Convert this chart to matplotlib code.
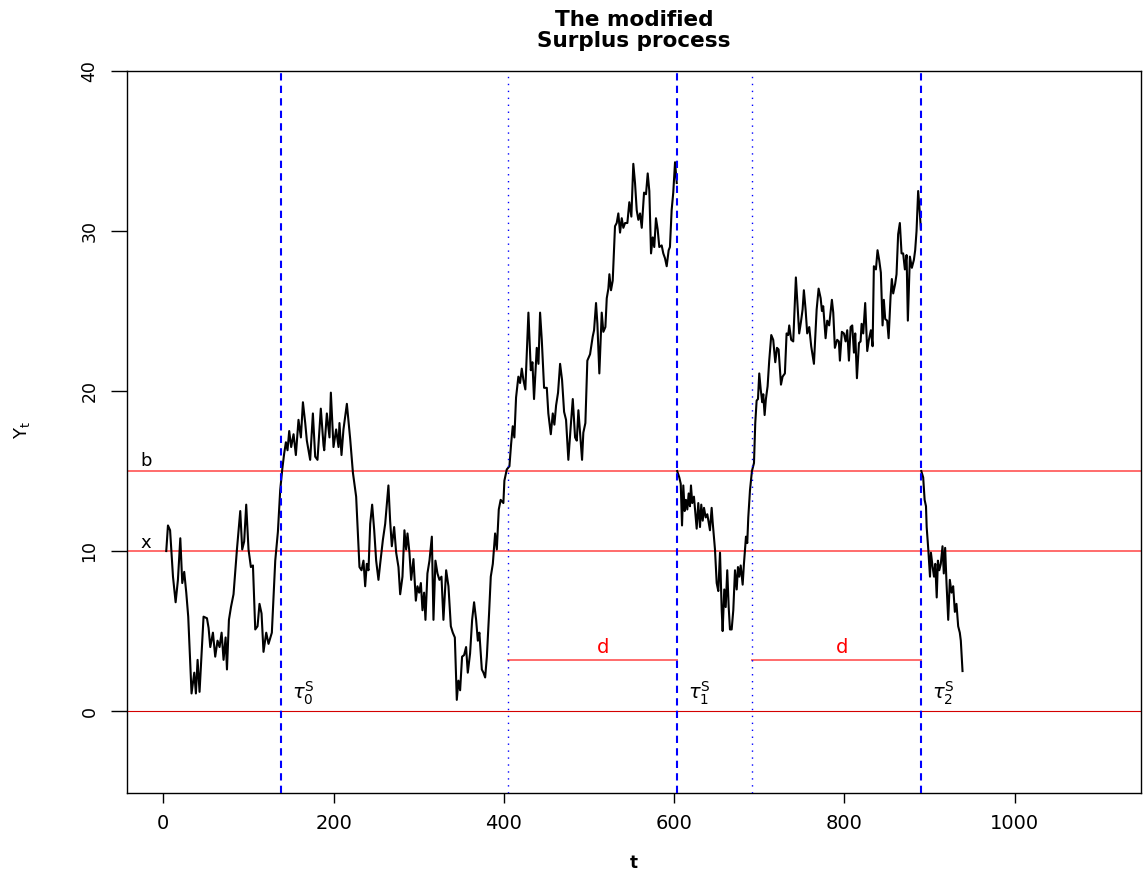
import numpy as np
import matplotlib.pyplot as plt

plt.rcParams['font.family'] = ['DejaVu Sans']

# simulated surplus path (time, level), reset to b at each stopping time
t = [3.5, 5.5, 8, 11.4, 14.5, 17.2, 20, 22.3, 24.6, 27, 29.3, 33.2, 36.4, 38.3, 40.3,
     42.6, 45.4, 47.3, 51.3, 53.2, 55.2, 58.3, 61, 63.7, 66.1, 68.5, 70.8, 73.2, 74.8, 77.1,
     79.5, 82.5, 86.5, 90.4, 92.7, 95, 97.4, 100.1, 102.9, 105.3, 108, 110.7, 113, 115.4, 117.7,
     120.9, 123.6, 127.5, 131.5, 134.6, 137.3, 139.7, 142, 144, 145.9, 147.9, 150.2, 153, 155.7, 158.8,
     161.6, 164, 166.7, 168.6, 172.5, 175.7, 178.4, 181.1, 185, 188.2,
     189, 192.1, 195.2, 196.8, 199.9, 203, 205.8, 206.9, 209.3, 211.6, 215.6, 219.5, 222.7, 226.5, 230.4,
     232.8, 235.1, 237.1, 239, 241, 243, 245.3, 247.7, 250, 252.7, 254.7, 257.9, 260.6, 264.4, 266.4,
     268.4, 271.1, 273.5, 276.2, 278.2, 280.9, 283.2, 285.2, 286.8, 289.1, 291.1, 293.8, 296.6, 298.5, 300.5,
     302.5, 304.4, 306.3, 307.9, 310.2, 312.6, 315.4, 317.3, 319.6, 322, 324.3, 326.7, 329, 332.2, 334.9,
     337.7, 340, 342.4, 344.7, 346.6, 348.6, 350.9, 353.3, 355.6, 357.6, 360.3, 362.7, 365, 367.4, 369.4,
     371.2, 374.1, 376, 378, 380, 382.6, 384.6, 387, 389.7, 391.7, 394, 396.2, 399.4, 400.6, 403.4,
     406.5, 408.5, 410.4, 412.3, 414.3, 417, 419, 421, 422.9, 425.2, 428.8, 431.6, 433.5, 435.4, 438.6,
     440.6, 442.5, 444.5, 447.2, 450.4, 452.2, 455.1, 457.4, 459.3, 461.3, 463.6, 466, 468.3, 470.7, 473,
     475.7, 478.5, 480.9, 483.6, 485.6, 487.5, 489.4, 491.8, 493.3, 495.7, 498, 501.2, 504.3, 505.9, 508.2,
     509.8, 512.1, 514.9, 516.8, 519.2, 520.8, 522.7, 523.9, 525.8, 527.8, 530.5, 532.5, 534.4, 536.4, 538.4,
     540.3, 542.3, 545, 547.3, 549.7, 552, 554, 556, 557.9, 559.9, 561.9, 564.6, 566.9, 568.9, 570.8,
     572.8, 574.8, 576.6, 578.6, 580.6, 582.5, 585.3, 587.2, 589.2, 591.2, 593.5, 595, 597, 598.9, 601, 603,
     603.5, 606, 607.7, 609.2, 610.7, 612.3, 613.8, 615.4, 617, 618.5, 619.7, 621.2, 623.2, 624.8, 626.4,
     628.3, 630.3, 631.8, 633.5, 635, 637, 638.9, 640.5, 642, 644, 645.2, 647.9, 649.9, 651.8, 653.8,
     655.8, 656.9, 658.8, 660.5, 662.3, 664, 665.5, 667.5, 669.4, 671.4, 673.4, 674.9, 676.4, 678.1, 680.4,
     681.9, 684.3, 685.8, 687, 689, 691.3,
     693.7, 695.2, 696.8, 698.4, 699.9, 701.6, 703.4, 704.6, 706.2, 707.7, 709.7, 711.6, 714, 716.3, 718.7,
     720.7, 722.6, 725.4, 727.3, 730, 732, 733.9, 735.1, 737.4, 739.8, 742.9, 744.9, 746.8, 748.8, 750.8,
     752.3, 754.3, 756.2, 758.6, 760.9, 764.1, 767.3, 769.6, 772, 773.5, 775, 777.8, 779.7, 782, 785.2,
     786.8, 788.7, 791.4, 793.4, 794.6, 796.9, 799.3, 801.3, 803.2, 805.2, 807.2, 809.1, 811.1, 812.6, 814.6,
     817, 818.9, 820.1, 822, 824.3, 826.7, 828.6, 831, 833, 834.5, 836.9, 838.8, 840.7, 842.7, 844.7,
     846.2, 847.8, 850.1, 851.8, 854.1, 855.6, 857.2, 859.5, 861.1, 863, 865, 867, 868.9, 870.9, 872.9,
     874.4, 876.8, 879.1, 881.5, 883, 884.6, 886.5, 888.5, 889.7,
     890.2, 892.4, 894.1, 895.7, 896.5, 898.4, 900.4, 901.5, 903.5, 905.1, 906.6, 908.3, 909.7, 911.3, 913.1,
     915.1, 916.6, 918.2, 919.8, 921.8, 923.7, 925.7, 927.6, 929.6, 931.5, 933.5, 935.4, 936.6, 938.6]

surplus = [10.0, 11.6, 11.3, 8.4, 6.8, 8.2, 10.8, 8.0, 8.7, 7.4, 5.9, 1.1, 2.4, 1.1, 3.2,
           1.2, 4.0, 5.9, 5.8, 5.2, 4.0, 4.9, 3.4, 4.4, 4.0, 4.9, 3.2, 4.6, 2.6, 5.7,
           6.5, 7.3, 10.1, 12.5, 10.1, 10.6, 12.9, 10.1, 9.0, 9.1, 5.1, 5.3, 6.7, 6.1, 3.7,
           4.9, 4.2, 4.9, 9.4, 11.2, 13.8, 15.1, 16.1, 16.8, 16.3, 17.5, 16.5, 17.3, 16.0, 18.2,
           17.1, 19.3, 18.0, 16.9, 15.7, 18.6, 15.9, 15.7, 18.9, 16.6,
           16.3, 18.6, 17.1, 19.9, 16.5, 17.6, 16.5, 18.0, 16.0, 17.6, 19.2, 17.0, 14.9, 13.4, 9.0,
           8.8, 9.4, 7.8, 9.2, 8.8, 11.7, 12.9, 11.3, 9.4, 8.2, 9.2, 10.7, 11.7, 14.1, 11.9,
           10.3, 11.5, 9.9, 9.0, 7.3, 8.4, 11.3, 10.1, 11.1, 9.9, 8.2, 9.5, 6.9, 7.8, 7.4,
           8.0, 6.3, 7.4, 5.7, 8.6, 9.4, 10.9, 5.7, 9.4, 8.6, 8.2, 8.4, 5.7, 8.8, 7.8,
           5.3, 4.9, 4.6, 0.7, 1.9, 1.3, 3.4, 3.5, 4.0, 2.4, 3.6, 5.7, 6.8, 5.7, 4.4,
           4.9, 2.6, 2.4, 2.1, 3.4, 6.1, 8.4, 9.2, 11.1, 10.1, 12.6, 13.2, 13.0, 14.4, 15.1,
           15.3, 16.7, 17.8, 17.1, 19.6, 20.9, 20.5, 21.4, 20.7, 20.1, 24.9, 21.3, 21.8, 19.5, 22.7,
           21.7, 24.9, 23.2, 20.2, 20.2, 18.6, 17.3, 18.6, 17.9, 19.1, 19.9, 21.7, 20.7, 18.7, 18.2,
           15.7, 17.8, 19.5, 17.1, 16.9, 18.8, 17.4, 15.7, 17.4, 18.0, 21.9, 22.3, 23.4, 23.8, 25.5,
           24.2, 21.1, 24.9, 23.7, 24.0, 25.8, 26.4, 27.3, 26.3, 26.9, 30.3, 30.5, 31.1, 29.9, 30.8,
           30.2, 30.5, 30.5, 31.8, 30.9, 34.2, 33.0, 31.3, 30.7, 31.1, 30.2, 32.4, 32.3, 33.6, 32.5,
           28.6, 29.6, 29.0, 30.8, 30.1, 29.0, 29.1, 28.6, 28.3, 27.8, 28.8, 29.0, 31.3, 32.4, 34.3, 33.0,
           15.0, 14.6, 14.2, 11.6, 14.1, 12.5, 13.2, 12.6, 13.6, 12.8, 14.1, 13.0, 13.4, 12.4, 11.4,
           13.0, 11.5, 12.9, 11.9, 12.7, 12.1, 12.3, 11.8, 11.3, 12.7, 11.8, 10.1, 8.0, 7.5, 9.9,
           6.3, 5.0, 7.6, 6.5, 8.8, 6.5, 5.1, 5.1, 6.3, 8.8, 7.6, 9.0, 8.4, 9.1, 7.9,
           9.2, 10.9, 10.5, 12.1, 13.8, 15.0,
           15.5, 18.0, 19.4, 19.5, 21.1, 20.1, 19.3, 19.8, 18.5, 19.5, 20.3, 21.9, 23.5, 23.2, 21.8,
           22.7, 22.6, 20.4, 20.9, 21.1, 23.6, 23.5, 24.1, 23.2, 23.1, 27.1, 25.3, 23.6, 24.3, 25.1,
           26.3, 25.1, 23.6, 24.0, 22.8, 21.7, 25.1, 26.4, 25.8, 25.0, 25.3, 23.3, 24.4, 24.1, 25.7,
           24.9, 22.7, 23.2, 23.1, 21.9, 23.7, 23.6, 23.1, 23.8, 21.9, 24.0, 24.1, 22.4, 23.6, 20.8,
           23.0, 23.1, 24.2, 23.6, 25.5, 22.5, 23.2, 23.8, 22.8, 27.8, 27.6, 28.8, 28.2, 27.4, 24.1,
           25.7, 24.5, 24.4, 23.3, 25.9, 27.0, 26.1, 26.7, 27.3, 29.8, 30.5, 28.6, 28.6, 27.6, 28.5,
           24.4, 28.4, 27.7, 28.2, 28.8, 30.0, 32.5, 31.1, 30.1,
           15.0, 14.6, 13.2, 12.8, 11.5, 10.1, 8.4, 9.9, 9.0, 8.4, 9.2, 7.1, 9.4, 8.8, 9.2,
           10.3, 8.6, 10.2, 8.0, 5.7, 8.2, 7.4, 7.8, 6.2, 6.7, 5.3, 4.9, 4.4, 2.5]

b_level = 15
x_level = 10
d_level = 3.2
tau_times = [138.5, 603, 890]      # stopping times tau_i^S
d_starts = [405, 691.6]            # tau_i^S - d
d_label_t = [517, 797]
tau_labels = [r'$\tau_0^{\mathrm{S}}$', r'$\tau_1^{\mathrm{S}}$', r'$\tau_2^{\mathrm{S}}$']
x_ticks = [0, 200, 400, 600, 800, 1000]
y_ticks = [0, 10, 20, 30, 40]

W, H = 1144, 877
fig = plt.figure(figsize=(W / 100, H / 100), dpi=100)
ax = fig.add_axes([127 / W, 1 - 793 / H, (1141 - 127) / W, (793 - 71) / H])

# path pieces between resets (the jump back to b is not drawn)
tt_arr = np.array(t)
yy_arr = np.array(surplus)
edges = [-np.inf] + tau_times[1:] + [np.inf]
for lo, hi in zip(edges[:-1], edges[1:]):
    m = (tt_arr > lo) & (tt_arr <= hi)
    ax.plot(tt_arr[m], yy_arr[m], color='black', lw=1.5, zorder=3)

# barrier levels and zero line
ax.axhline(b_level, color='#ff6b6b', lw=1.4, zorder=2)
ax.axhline(x_level, color='#ff6b6b', lw=1.4, zorder=2)
ax.axhline(0, color='#d40000', lw=0.8, zorder=2)

# stopping times and the d-windows before them
for tt in tau_times:
    ax.axvline(tt, color='#0000ff', lw=1.5, ls=(0, (3.5, 2.5)), zorder=4)
for ds in d_starts:
    ax.axvline(ds, color='#0000ff', lw=1.0, ls=(0, (1, 4)), zorder=4)
for ds, tt, tl in zip(d_starts, tau_times[1:], d_label_t):
    ax.plot([ds, tt], [d_level, d_level], color='#ff6b6b', lw=1.4, zorder=2)
    ax.text(tl, 4.0, 'd', color='red', fontsize=14, ha='center', va='center')

for tt, lab in zip(tau_times, tau_labels):
    ax.text(tt + 13, 1.1, lab, fontsize=14, ha='left', va='center')

ax.text(-20, 15.6, 'b', fontsize=13, ha='center', va='center')
ax.text(-20, 10.5, 'x', fontsize=13, ha='center', va='center')

ax.set_xlim(-42.6, 1148.2)
ax.set_ylim(-5.12, 40)
ax.set_xticks(x_ticks)
ax.set_yticks(y_ticks)
ax.tick_params(axis='x', length=7.2, width=1, labelsize=14, pad=8)
ax.tick_params(axis='y', length=11.5, width=1, labelsize=12.5, pad=9)
for lab in ax.get_yticklabels():
    lab.set_rotation(90)
    lab.set_va('center')
for sp in ax.spines.values():
    sp.set_linewidth(1.0)

fig.text(634 / W, 1 - 26 / H, 'The modified', fontsize=15.5, fontweight='bold',
         ha='center', va='baseline')
fig.text(634 / W, 1 - 47 / H, 'Surplus process', fontsize=15.5, fontweight='bold',
         ha='center', va='baseline')
fig.text(634 / W, 1 - 868 / H, 't', fontsize=12, fontweight='bold', ha='center', va='baseline')
fig.text(22 / W, 1 - 430 / H, r'$\mathrm{Y}_{\mathrm{t}}$', fontsize=13, rotation=90,
         ha='center', va='center')

fig.savefig('out.png', dpi=100)
